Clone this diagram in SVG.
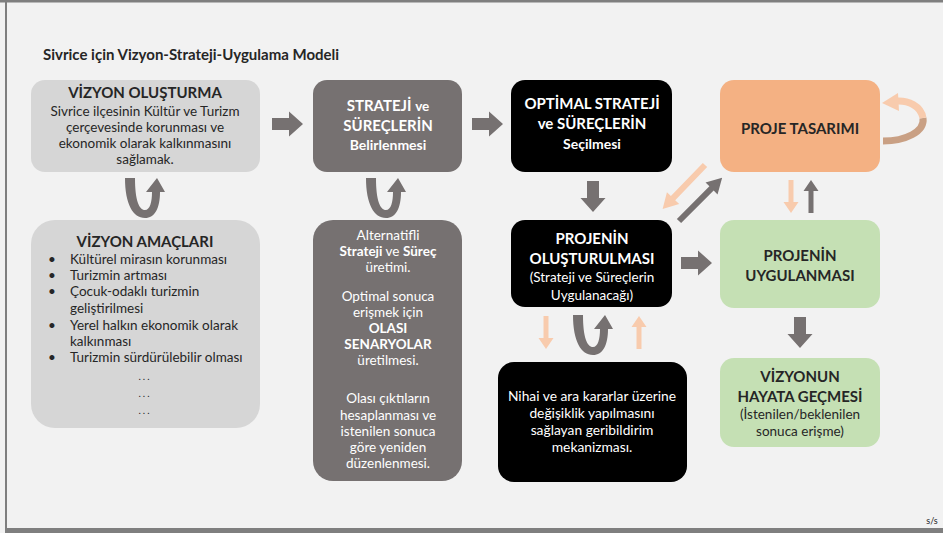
<svg xmlns="http://www.w3.org/2000/svg" width="943" height="533" viewBox="0 0 943 533">
<style>
text{font-family:Lato,"Open Sans","Liberation Sans",sans-serif;text-anchor:middle}
.h{font-size:15px;font-weight:700}
.b{font-size:13.5px}
.dk{fill:#262626}
.wt{fill:#ffffff}
.gray{fill:#767171}
.peach{fill:#f8cbad}
.l{text-anchor:start}
</style>
<defs>
<path id="blk" d="M0,-6 H17 V-12.5 L31,0 L17,12.5 V6 H0 Z"/>
<path id="thin" d="M-2.5,0 H2.5 V22 H7.5 L0,33 L-7.5,22 H-2.5 Z"/>
<path id="diag" d="M-3,0 H3 V46 H8.5 L0,61 L-8.5,46 H-3 Z"/>
<path id="uturn" d="M0,0 L10,0 C10,22 14,32 20,32 C25,32 27,24 27,14 L21,14 L32,0 L40,14 L35,14 C35,30 30,40 20,40 C8,40 0,26 0,0 Z"/>
</defs>
<rect x="0" y="0" width="943" height="533" fill="#f2f2f2"/>
<rect x="0" y="0" width="943" height="2.5" fill="#7f7f7f"/>
<rect x="5" y="0" width="2" height="530" fill="#7f7f7f"/>
<rect x="5" y="528" width="938" height="5" fill="#7f7f7f"/>
<text x="43" y="60" class="l dk" style="font-size:15px;font-weight:700">Sivrice için Vizyon-Strateji-Uygulama Modeli</text>

<g id="connectors">
<use href="#blk" x="272" y="124" class="gray"/>
<use href="#blk" x="472" y="124" class="gray"/>
<use href="#blk" x="681" y="263" class="gray"/>
<use href="#blk" transform="translate(593,181) rotate(90)" class="gray"/>
<use href="#blk" transform="translate(800,317) rotate(90)" class="gray"/>
<use href="#uturn" x="125" y="178" class="gray"/>
<use href="#uturn" x="366" y="178" class="gray"/>
<use href="#uturn" x="573" y="315" class="gray"/>
<use href="#thin" x="791" y="180" class="peach"/>
<use href="#thin" transform="translate(811,213) rotate(180)" class="gray"/>
<use href="#thin" x="546" y="316" class="peach"/>
<use href="#thin" transform="translate(639,349) rotate(180)" class="peach"/>
<use href="#diag" transform="translate(705,165) rotate(44)" class="peach"/>
<use href="#diag" transform="translate(679,221) rotate(225)" class="gray"/>
<path d="M883,141 C905,141 925,132 923,118" fill="none" stroke="#c9a084" stroke-width="7"/>
<path d="M923,118 C921,106 908,100 896,101" fill="none" stroke="#f8cbad" stroke-width="7"/>
<path d="M898,93 L882,103 L899,111 Z" class="peach"/>
</g>

<g id="vizyon-olusturma">
<rect x="31" y="80" width="229" height="92" rx="14" fill="#d6d6d6"/>
<text x="145" y="98" class="h dk">VİZYON OLUŞTURMA</text>
<text x="145" y="116" class="b dk">Sivrice ilçesinin Kültür ve Turizm</text>
<text x="145" y="132" class="b dk">çerçevesinde korunması ve</text>
<text x="145" y="148" class="b dk">ekonomik olarak kalkınmasını</text>
<text x="145" y="164" class="b dk">sağlamak.</text>
</g>

<g id="vizyon-amaclari">
<rect x="31" y="220" width="229" height="208" rx="24" fill="#d6d6d6"/>
<text x="145" y="247" class="h dk">VİZYON AMAÇLARI</text>
<text x="48" y="264" class="b dk l">•</text>
<text x="70" y="264" class="b dk l">Kültürel mirasın korunması</text>
<text x="48" y="280" class="b dk l">•</text>
<text x="70" y="280" class="b dk l">Turizmin artması</text>
<text x="48" y="296" class="b dk l">•</text>
<text x="70" y="296" class="b dk l">Çocuk-odaklı turizmin</text>
<text x="70" y="313" class="b dk l">geliştirilmesi</text>
<text x="48" y="330" class="b dk l">•</text>
<text x="70" y="330" class="b dk l">Yerel halkın ekonomik olarak</text>
<text x="70" y="346" class="b dk l">kalkınması</text>
<text x="48" y="362" class="b dk l">•</text>
<text x="70" y="362" class="b dk l">Turizmin sürdürülebilir olması</text>
<text x="145" y="380" class="dk" style="font-size:10px;letter-spacing:2px">...</text>
<text x="145" y="397" class="dk" style="font-size:10px;letter-spacing:2px">...</text>
<text x="145" y="414" class="dk" style="font-size:10px;letter-spacing:2px">...</text>
</g>

<g id="strateji">
<rect x="313" y="80" width="149" height="92" rx="14" fill="#767171"/>
<text x="388" y="111" class="h wt">STRATEJİ <tspan style="font-size:13.5px">ve</tspan></text>
<text x="388" y="131" class="h wt">SÜREÇLERİN</text>
<text x="388" y="150" class="wt" style="font-size:14px;font-weight:700">Belirlenmesi</text>
</g>

<g id="alternatifli">
<rect x="313" y="220" width="149" height="261" rx="20" fill="#767171"/>
<text x="388" y="240" class="b wt">Alternatifli</text>
<text x="388" y="256" class="b wt"><tspan font-weight="700">Strateji</tspan> ve <tspan font-weight="700">Süreç</tspan></text>
<text x="388" y="272" class="b wt">üretimi.</text>
<text x="388" y="301" class="b wt">Optimal sonuca</text>
<text x="388" y="317" class="b wt">erişmek için</text>
<text x="388" y="333" class="b wt" font-weight="700">OLASI</text>
<text x="388" y="349" class="b wt" font-weight="700">SENARYOLAR</text>
<text x="388" y="365" class="b wt">üretilmesi.</text>
<text x="388" y="403" class="b wt">Olası çıktıların</text>
<text x="388" y="420" class="b wt">hesaplanması ve</text>
<text x="388" y="436" class="b wt">istenilen sonuca</text>
<text x="388" y="452" class="b wt">göre yeniden</text>
<text x="388" y="468" class="b wt">düzenlenmesi.</text>
</g>

<g id="optimal">
<rect x="511" y="80" width="161" height="92" rx="14" fill="#000000"/>
<text x="592" y="109" class="h wt">OPTİMAL STRATEJİ</text>
<text x="592" y="129" class="h wt">ve SÜREÇLERİN</text>
<text x="592" y="149" class="wt" style="font-size:14px;font-weight:700">Seçilmesi</text>
</g>

<g id="projenin-olusturulmasi">
<rect x="511" y="220" width="161" height="87" rx="14" fill="#000000"/>
<text x="592" y="244" class="h wt">PROJENİN</text>
<text x="592" y="264" class="h wt">OLUŞTURULMASI</text>
<text x="592" y="282" class="b wt">(Strateji ve Süreçlerin</text>
<text x="592" y="300" class="b wt">Uygulanacağı)</text>
</g>

<g id="nihai">
<rect x="498" y="362" width="189" height="120" rx="16" fill="#000000"/>
<text x="592" y="401" class="wt" style="font-size:13.8px">Nihai ve ara kararlar üzerine</text>
<text x="592" y="418" class="wt" style="font-size:13.8px">değişiklik yapılmasını</text>
<text x="592" y="435" class="wt" style="font-size:13.8px">sağlayan geribildirim</text>
<text x="592" y="452" class="wt" style="font-size:13.8px">mekanizması.</text>
</g>

<g id="proje-tasarimi">
<rect x="720" y="80" width="160" height="92" rx="14" fill="#f4b183"/>
<text x="800" y="134" class="h dk">PROJE TASARIMI</text>
</g>

<g id="projenin-uygulanmasi">
<rect x="720" y="220" width="160" height="88" rx="14" fill="#c5e0b4"/>
<text x="800" y="261" class="h dk">PROJENİN</text>
<text x="800" y="281" class="h dk">UYGULANMASI</text>
</g>

<g id="vizyonun">
<rect x="720" y="358" width="160" height="89" rx="14" fill="#c5e0b4"/>
<text x="800" y="382" class="h dk">VİZYONUN</text>
<text x="800" y="402" class="h dk">HAYATA GEÇMESİ</text>
<text x="800" y="419" class="b dk">(İstenilen/beklenilen</text>
<text x="800" y="436" class="b dk">sonuca erişme)</text>
</g>

<text x="932" y="524" style="font-size:9px" class="dk">s/s</text>
</svg>
